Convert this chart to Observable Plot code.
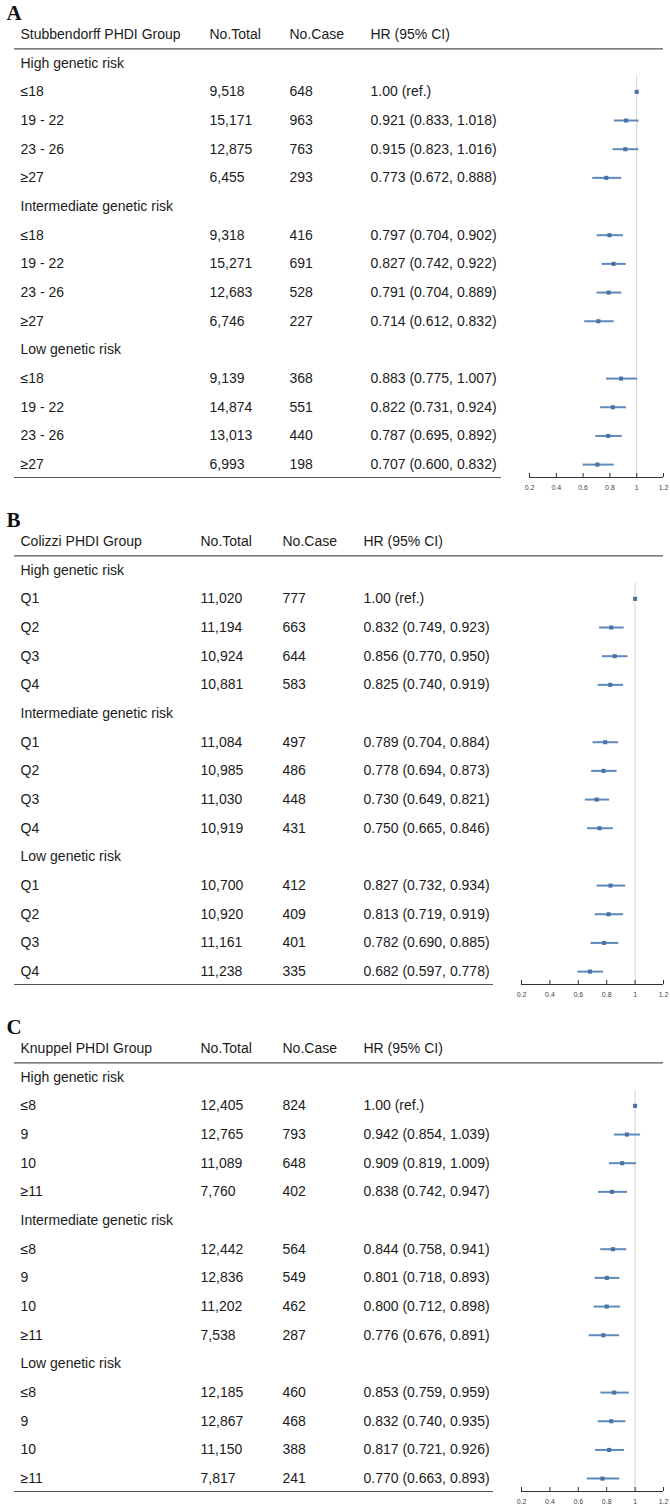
<!DOCTYPE html>
<html>
<head>
<meta charset="utf-8">
<script src="https://cdn.jsdelivr.net/npm/d3@7"></script>
<script src="https://cdn.jsdelivr.net/npm/@observablehq/plot@0.6"></script>
<style>
  html, body { margin: 0; padding: 0; background: #fff; overflow: hidden; }
  #fig { width: 670px; }
  #fig svg { display: block; }
</style>
</head>
<body>
<div id="fig"></div>
<script>
// Genetic risk strata shared by all three panels
const riskGroups = ["High genetic risk", "Intermediate genetic risk", "Low genetic risk"];
const columnHeaders = ["No.Total", "No.Case", "HR (95% CI)"];
const axisTicks = [0.2, 0.4, 0.6, 0.8, 1, 1.2];

// Panel A: Stubbendorff PHDI
const stubCategories = ["≤18", "19 - 22", "23 - 26", "≥27"];
const stubTotal = [9518, 15171, 12875, 6455, 9318, 15271, 12683, 6746, 9139, 14874, 13013, 6993];
const stubCase = [648, 963, 763, 293, 416, 691, 528, 227, 368, 551, 440, 198];
const stubHR = [1, 0.921, 0.915, 0.773, 0.797, 0.827, 0.791, 0.714, 0.883, 0.822, 0.787, 0.707];
const stubLower = [null, 0.833, 0.823, 0.672, 0.704, 0.742, 0.704, 0.612, 0.775, 0.731, 0.695, 0.600];
const stubUpper = [null, 1.018, 1.016, 0.888, 0.902, 0.922, 0.889, 0.832, 1.007, 0.924, 0.892, 0.832];

// Panel B: Colizzi PHDI
const colCategories = ["Q1", "Q2", "Q3", "Q4"];
const colTotal = [11020, 11194, 10924, 10881, 11084, 10985, 11030, 10919, 10700, 10920, 11161, 11238];
const colCase = [777, 663, 644, 583, 497, 486, 448, 431, 412, 409, 401, 335];
const colHR = [1, 0.832, 0.856, 0.825, 0.789, 0.778, 0.730, 0.750, 0.827, 0.813, 0.782, 0.682];
const colLower = [null, 0.749, 0.770, 0.740, 0.704, 0.694, 0.649, 0.665, 0.732, 0.719, 0.690, 0.597];
const colUpper = [null, 0.923, 0.950, 0.919, 0.884, 0.873, 0.821, 0.846, 0.934, 0.919, 0.885, 0.778];

// Panel C: Knuppel PHDI
const knuCategories = ["≤8", "9", "10", "≥11"];
const knuTotal = [12405, 12765, 11089, 7760, 12442, 12836, 11202, 7538, 12185, 12867, 11150, 7817];
const knuCase = [824, 793, 648, 402, 564, 549, 462, 287, 460, 468, 388, 241];
const knuHR = [1, 0.942, 0.909, 0.838, 0.844, 0.801, 0.800, 0.776, 0.853, 0.832, 0.817, 0.770];
const knuLower = [null, 0.854, 0.819, 0.742, 0.758, 0.718, 0.712, 0.676, 0.759, 0.740, 0.721, 0.663];
const knuUpper = [null, 1.039, 1.009, 0.947, 0.941, 0.893, 0.898, 0.891, 0.959, 0.935, 0.926, 0.893];

const FONT = "'Liberation Sans', Arial, Helvetica, sans-serif";
const TEXT_SIZE = 14;
const CI_COLOR = "#5f88bb";
const PT_COLOR = "#4a72a6";
const fmtInt = d3.format(",");

function hrText(d) {
  if (d.lo == null) return d.hr.toFixed(2) + " (ref.)";
  return `${d.hr.toFixed(3)} (${d.lo.toFixed(3)}, ${d.hi.toFixed(3)})`;
}

function forestPanel({letter, title, categories, total, cases, hr, lower, upper, colX, xRange, tableRight, height}) {
  // Row 0 is the column header; each risk group gets a label row followed by its four categories
  const rows = [];
  riskGroups.forEach((g, gi) => {
    rows.push({i: 1 + gi * 5, label: g});
    categories.forEach((c, ci) => {
      const k = gi * 4 + ci;
      rows.push({i: 2 + gi * 5 + ci, label: c, total: total[k], cases: cases[k], hr: hr[k], lo: lower[k], hi: upper[k]});
    });
  });
  const est = rows.filter(d => d.hr != null);
  const withCI = est.filter(d => d.lo != null);
  const base = 15.45; // baseline under the last row, shared by table rule and x axis
  const headerRow = [{i: 0}];
  const txt = (data, dx, text) => Plot.text(data, {
    y: "i", text, frameAnchor: "left", dx, textAnchor: "start", lineAnchor: "middle",
    fontSize: TEXT_SIZE, fill: "#1b1b1b"
  });

  return Plot.plot({
    width: 670,
    height,
    marginLeft: 0,
    marginRight: 0,
    marginTop: 34,
    marginBottom: height - 477,
    style: {fontFamily: FONT, background: "#fff", color: "#333"},
    x: {domain: [0.2, 1.2], range: xRange, axis: null},
    y: {domain: [0, base], reverse: true, axis: null},
    marks: [
      // panel letter
      Plot.text([letter], {
        frameAnchor: "top-left", dx: 6, dy: -21, lineAnchor: "middle", textAnchor: "start",
        fontFamily: "'Liberation Serif', 'DejaVu Serif', serif", fontWeight: "bold", fontSize: 21, fill: "#111"
      }),
      // column headers
      txt(headerRow, colX[0], () => title),
      txt(headerRow, colX[1], () => columnHeaders[0]),
      txt(headerRow, colX[2], () => columnHeaders[1]),
      txt(headerRow, colX[3], () => columnHeaders[2]),
      // table body
      txt(rows, colX[0], "label"),
      txt(est, colX[1], d => fmtInt(d.total)),
      txt(est, colX[2], d => fmtInt(d.cases)),
      txt(est, colX[3], hrText),
      // rules under the header and under the table
      Plot.ruleY([0.5], {insetLeft: 14, insetRight: 7, stroke: "#555", strokeWidth: 1.2}),
      Plot.ruleY([base], {insetLeft: 14, insetRight: 670 - tableRight, stroke: "#555", strokeWidth: 1.2}),
      // null-effect reference line
      Plot.ruleX([1], {y1: 1.45, y2: base, stroke: "#d2d2d2", strokeWidth: 1}),
      // confidence intervals and point estimates
      Plot.ruleY(withCI, {y: "i", x1: "lo", x2: "hi", stroke: CI_COLOR, strokeWidth: 2}),
      Plot.dot(est, {x: "hr", y: "i", symbol: "square", r: 2.3, fill: PT_COLOR, stroke: null}),
      // hazard ratio axis
      Plot.ruleY([base], {x1: 0.2, x2: 1.2, stroke: "#333", strokeWidth: 1}),
      Plot.axisX({
        anchor: "bottom", ticks: axisTicks, tickFormat: d => String(d),
        tickSize: -4, tickPadding: 12, fontSize: 7, fill: "#444"
      })
    ]
  });
}

const fig = document.getElementById("fig");
fig.append(forestPanel({
  letter: "A", title: "Stubbendorff PHDI Group", categories: stubCategories,
  total: stubTotal, cases: stubCase, hr: stubHR, lower: stubLower, upper: stubUpper,
  colX: [20, 209, 289, 370], xRange: [529, 663], tableRight: 501, height: 507
}));
fig.append(forestPanel({
  letter: "B", title: "Colizzi PHDI Group", categories: colCategories,
  total: colTotal, cases: colCase, hr: colHR, lower: colLower, upper: colUpper,
  colX: [20, 200, 282, 363], xRange: [521, 663], tableRight: 493, height: 507
}));
fig.append(forestPanel({
  letter: "C", title: "Knuppel PHDI Group", categories: knuCategories,
  total: knuTotal, cases: knuCase, hr: knuHR, lower: knuLower, upper: knuUpper,
  colX: [20, 200, 282, 363], xRange: [521, 663], tableRight: 493, height: 494
}));
</script>
</body>
</html>
